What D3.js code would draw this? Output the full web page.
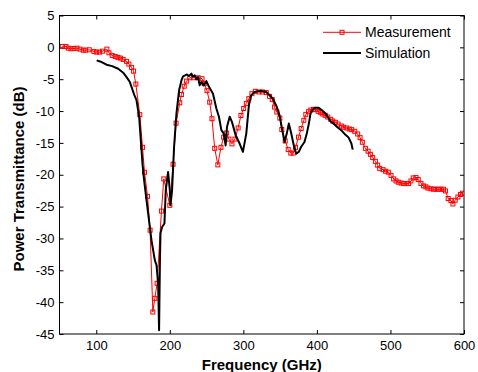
<!DOCTYPE html>
<html>
<head>
<meta charset="utf-8">
<script src="https://cdn.jsdelivr.net/npm/d3@7"></script>
<style>
  html, body { margin: 0; padding: 0; background: #fff; }
  svg { display: block; font-family: "Liberation Sans", Arial, sans-serif; }
</style>
</head>
<body>
<svg id="chart" width="478" height="372"></svg>
<script>
// ---- data ----
const measFreq = [53.8,58.8,61.9,65.6,69.7,73.7,77.8,82.3,85.5,90.4,96.8,100.5,104.5,108.6,114.4,117.2,121.6,125.7,129.4,133.0,136.6,141.2,144.3,148.0,150.7,153.8,159.2,162.9,165.6,169.7,173.2,176.9,179.6,182.7,188.6,191.8,200.0,204.4,208.5,213.5,215.8,219.6,222.6,227.1,232.5,238.3,243.8,246.8,250.5,254.2,257.3,261.0,265.3,269.5,273.2,276.9,280.4,284.5,288.5,292.9,296.7,300.4,304.0,307.4,311.6,316.2,321.1,326.1,331.1,335.6,339.3,342.4,345.5,349.6,352.3,356.9,361.0,364.5,367.8,370.9,375.0,378.6,382.2,384.9,388.6,391.7,395.3,398.5,401.7,405.2,408.0,411.3,414.7,418.8,421.5,425.2,428.8,433.3,436.4,440.5,444.2,447.3,451.4,455.4,458.7,461.8,465.9,469.6,472.7,475.8,479.5,482.6,485.3,489.9,493.4,497.1,500.8,504.3,507.5,510.7,514.3,517.9,521.5,524.7,527.9,531.0,534.7,537.8,541.5,545.0,548.2,551.0,555.0,558.6,561.8,565.3,568.6,572.1,574.8,578.5,582.2,584.9,588.0,591.7,595.2,597.9];
const measDb = [0.14,0.14,-0.13,-0.22,-0.17,-0.13,-0.28,-0.44,-0.44,-0.38,-0.64,-0.75,-0.75,-0.6,-0.28,-0.85,-1.27,-1.43,-1.58,-1.69,-1.9,-2.2,-2.63,-3.15,-3.73,-5.77,-10.57,-15.7,-19.6,-23.4,-28.7,-41.55,-39.4,-37.05,-25.7,-20.65,-24.8,-18.35,-11.9,-8.7,-7.4,-6.1,-5.3,-4.77,-4.77,-4.77,-4.92,-5.7,-6.8,-8.6,-11.2,-15.85,-18.45,-15.7,-14.1,-13.45,-14.4,-15.15,-14.4,-12.65,-10.7,-9.6,-8.8,-8.05,-7.27,-6.9,-7.0,-7.0,-7.1,-7.7,-8.2,-9.37,-10.15,-11.1,-12.9,-14.7,-16.05,-16.6,-16.6,-15.7,-14.1,-12.75,-11.45,-10.52,-10.1,-9.84,-9.73,-9.78,-10.05,-10.25,-10.47,-10.67,-10.94,-11.3,-11.57,-11.77,-12.04,-12.35,-12.55,-12.66,-12.82,-12.92,-13.18,-13.6,-14.17,-14.9,-15.85,-16.3,-16.8,-17.3,-17.9,-18.5,-19.0,-19.2,-19.45,-19.6,-20.1,-20.65,-20.97,-21.17,-21.3,-21.38,-21.38,-21.38,-20.97,-20.5,-20.44,-20.75,-21.38,-21.75,-21.9,-22.1,-22.2,-22.27,-22.27,-22.27,-22.27,-22.27,-22.54,-23.73,-24.05,-24.58,-24.0,-23.5,-23.1,-22.9];

const simFreq = [100.5,107.3,114,121.6,129.8,136.6,141.2,145.7,148.8,151.5,154.7,158.3,160.5,163,165,168.3,172.8,175.1,179.6,181.9,184.1,185.4,186.5,187.3,189.5,192.7,194.5,197.6,200,200.9,203.1,205.8,209,212.6,215.8,218,223.4,226,229.4,231.5,233.9,236,238.3,240.6,242.9,246.1,249.7,253.3,258.7,263.3,266.8,270.1,273.2,275.9,277.7,281.4,284.5,289.5,294.9,299.4,304,307.5,310.8,315.3,319.8,324.4,331.1,335.6,340.1,345.5,349.2,352.9,356,359.1,361.8,365.1,368.6,371.9,375.4,378.6,383.1,386.3,389,391.3,393.6,396.7,402.5,407.1,412.6,418.4,422.9,427.5,432.9,437.4,443.2,446.9,448.7];
const simDb = [-2.05,-2.3,-2.73,-2.95,-3.36,-3.98,-4.67,-5.45,-6.5,-7.43,-8.3,-10.9,-14.5,-18.5,-20.8,-24,-28.2,-30.3,-33.4,-34.2,-37.05,-44.4,-34,-29.2,-28.2,-27.65,-22.4,-19.55,-22.4,-24.8,-22.4,-15.6,-10.4,-6.75,-5.2,-4.55,-4.25,-4.5,-4.13,-4.6,-4.4,-5.0,-4.67,-5.97,-5.45,-5.97,-5.3,-6.2,-7.27,-9.6,-10.9,-13.0,-13.5,-15.4,-12.5,-10.9,-11.7,-13.8,-15.1,-16.4,-13.5,-9.1,-7.5,-7.0,-6.9,-6.85,-7.0,-7.5,-8.05,-9.37,-10.67,-13.0,-14.85,-13.5,-11.97,-13.5,-15.4,-16.7,-16.4,-15.6,-14.85,-13.5,-12.0,-10.4,-9.9,-9.5,-9.5,-9.9,-10.5,-11.6,-12.0,-12.5,-13.0,-13.55,-14.17,-15.1,-16.05];

const xTicks = [100,200,300,400,500,600];
const yTicks = [5,0,-5,-10,-15,-20,-25,-30,-35,-40,-45];
const seriesNames = ["Measurement","Simulation"];
const xTitle = "Frequency (GHz)";
const yTitle = "Power Transmittance (dB)";

// ---- layout ----
const L = 59.5, R = 464, T = 15.5, B = 334;
const svg = d3.select("#chart");
const x = d3.scaleLinear().domain([50,600]).range([L,R]);
const y = d3.scaleLinear().domain([-45,5]).range([B,T]);

const meas = measFreq.map((f,i)=>[f,measDb[i]]);
const sim = simFreq.map((f,i)=>[f,simDb[i]]);
const line = d3.line().x(d=>x(d[0])).y(d=>y(d[1]));

// axes
const fmt = d => String(d);
const gB = svg.append("g").attr("transform",`translate(0,${B})`)
  .call(d3.axisBottom(x).tickValues(xTicks).tickFormat(fmt).tickSizeInner(-4).tickSizeOuter(0).tickPadding(7));
const gL = svg.append("g").attr("transform",`translate(${L},0)`)
  .call(d3.axisLeft(y).tickValues(yTicks).tickFormat(fmt).tickSizeInner(-4).tickSizeOuter(0).tickPadding(5));
const gT = svg.append("g").attr("transform",`translate(0,${T})`)
  .call(d3.axisTop(x).tickValues(xTicks).tickFormat("").tickSizeInner(-4).tickSizeOuter(0));
const gR = svg.append("g").attr("transform",`translate(${R},0)`)
  .call(d3.axisRight(y).tickValues(yTicks).tickFormat("").tickSizeInner(-4).tickSizeOuter(0));
[gB,gL,gT,gR].forEach(g=>{
  g.select(".domain").remove();
  g.selectAll("line").attr("stroke","#000");
  g.selectAll("text").attr("fill","#000").style("font-size","13px").style("font-family","'Liberation Sans', Arial, sans-serif");
});

// clip
svg.append("clipPath").attr("id","clip").append("rect")
  .attr("x",L).attr("y",T).attr("width",R-L).attr("height",B-T);

const plot = svg.append("g").attr("clip-path","url(#clip)");
// measurement
plot.append("path").datum(meas).attr("d",line)
  .attr("fill","none").attr("stroke","#ff0000").attr("stroke-width",1);
plot.selectAll("rect.m").data(meas).join("rect").attr("class","m")
  .attr("x",d=>x(d[0])-2).attr("y",d=>y(d[1])-2).attr("width",4).attr("height",4)
  .attr("fill","none").attr("stroke","#ff0000").attr("stroke-width",1);
// simulation
plot.append("path").datum(sim).attr("d",line)
  .attr("fill","none").attr("stroke","#000").attr("stroke-width",2).attr("stroke-linejoin","round");

// frame
svg.append("rect").attr("x",L).attr("y",T).attr("width",R-L).attr("height",B-T)
  .attr("fill","none").attr("stroke","#000").attr("stroke-width",1);

// titles
svg.append("text").attr("x",(L+R)/2).attr("y",369.5).attr("text-anchor","middle")
  .style("font-size","15px").style("font-weight","bold").text(xTitle);
svg.append("text").attr("transform",`translate(23.5,${(77+281)/2}) rotate(-90)`).attr("text-anchor","middle")
  .style("font-size","15px").style("font-weight","bold").text(yTitle);

// legend
const lg = svg.append("g");
const lx0 = 323, lx1 = 361, ly = [32.3, 53];
lg.append("line").attr("x1",lx0).attr("x2",lx1).attr("y1",ly[0]).attr("y2",ly[0]).attr("stroke","#ff0000").attr("stroke-width",1);
lg.append("rect").attr("x",(lx0+lx1)/2-2).attr("y",ly[0]-2).attr("width",4).attr("height",4).attr("fill","none").attr("stroke","#ff0000");
lg.append("line").attr("x1",lx0).attr("x2",lx1).attr("y1",ly[1]).attr("y2",ly[1]).attr("stroke","#000").attr("stroke-width",2);
seriesNames.forEach((n,i)=>{
  lg.append("text").attr("x",365).attr("y",ly[i]+5).style("font-size","14px").attr("fill","#000").text(n);
});
</script>
</body>
</html>
